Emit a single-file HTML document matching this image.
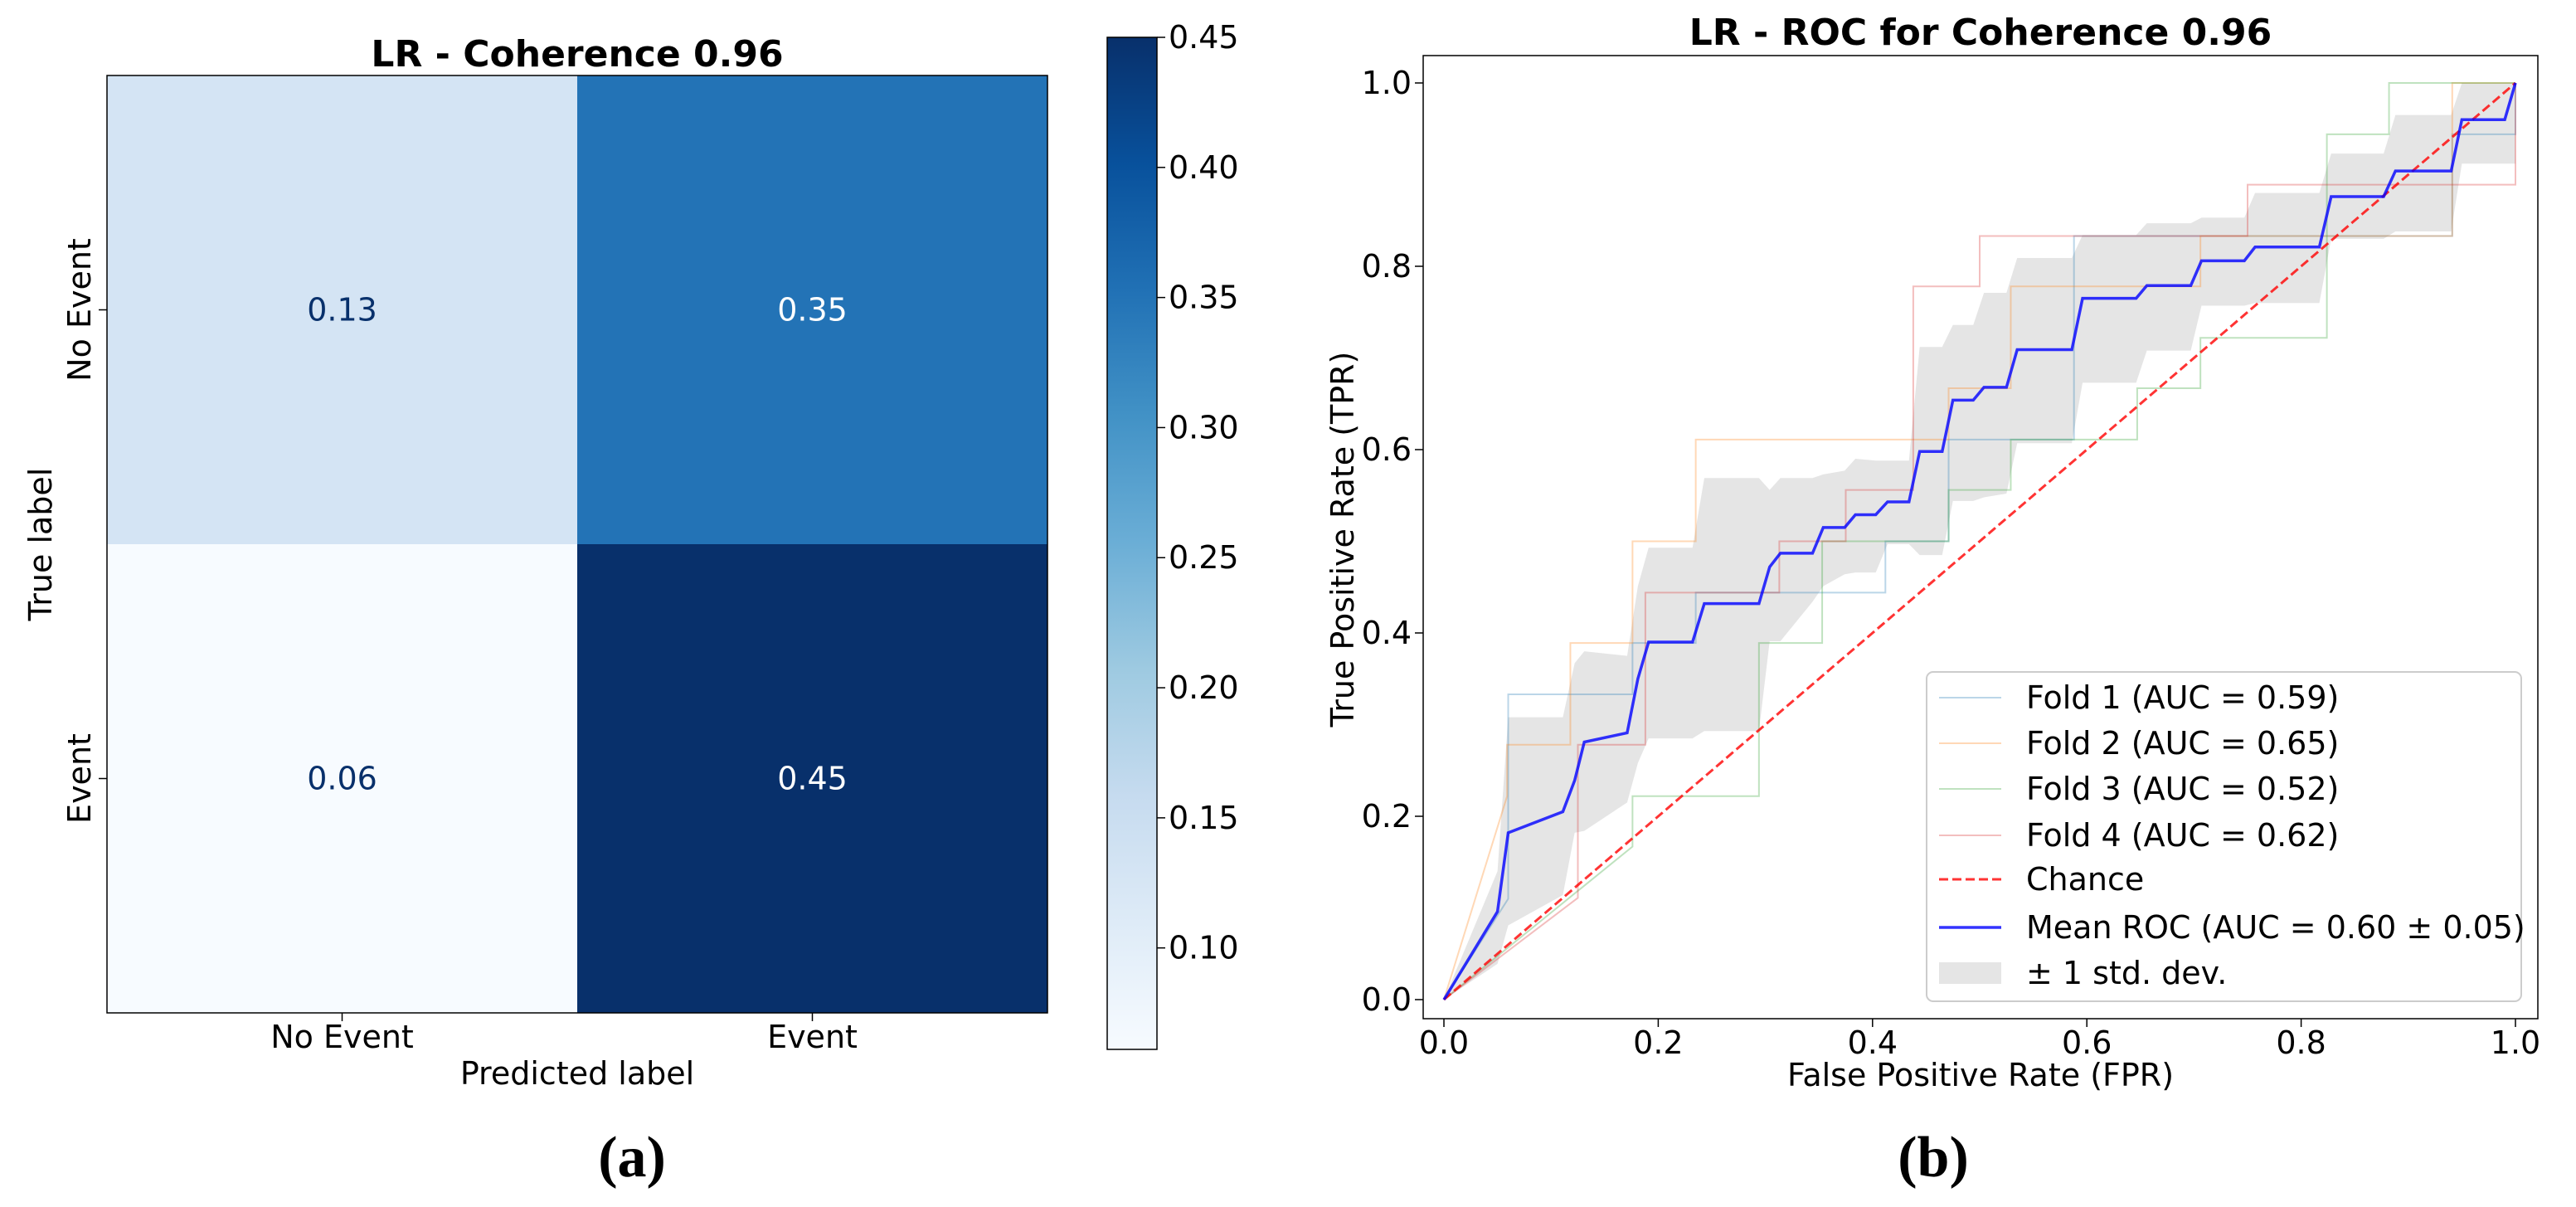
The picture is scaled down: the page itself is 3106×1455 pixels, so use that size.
<!DOCTYPE html>
<html><head><meta charset="utf-8"><style>
body{margin:0;background:#fff;overflow:hidden}
svg{display:block;font-family:"DejaVu Sans","Liberation Sans",sans-serif}
</style></head><body>
<svg id="fig" width="3106" height="1455" viewBox="0 0 3106 1455" xmlns="http://www.w3.org/2000/svg">
<rect width="3106" height="1455" fill="#fff"/>
<g id="left"></g>
<g id="right"></g>
</svg>
<script>
// ---- Confusion matrix data ----
const cmLabels = ["No Event", "Event"];
const cmValues = [[0.13, 0.35], [0.06, 0.45]];
const cbTicks = [0.10, 0.15, 0.20, 0.25, 0.30, 0.35, 0.40, 0.45];
const cbMin = 0.061, cbMax = 0.45;

// ---- ROC data ----
const rocTicks = [0.0, 0.2, 0.4, 0.6, 0.8, 1.0];
const fold1 = [[0,0],[0.06,0.11],[0.06,0.333],[0.176,0.333],[0.176,0.389],[0.235,0.389],[0.235,0.444],[0.412,0.444],[0.412,0.5],[0.471,0.5],[0.471,0.611],[0.588,0.611],[0.588,0.833],[0.941,0.833],[0.941,0.944],[1,0.944],[1,1]];
const fold2 = [[0,0],[0.059,0.222],[0.059,0.278],[0.118,0.278],[0.118,0.389],[0.176,0.389],[0.176,0.5],[0.235,0.5],[0.235,0.611],[0.471,0.611],[0.471,0.667],[0.529,0.667],[0.529,0.778],[0.706,0.778],[0.706,0.833],[0.941,0.833],[0.941,1],[1,1]];
const fold3 = [[0,0],[0.176,0.167],[0.176,0.222],[0.294,0.222],[0.294,0.389],[0.353,0.389],[0.353,0.5],[0.471,0.5],[0.471,0.556],[0.529,0.556],[0.529,0.611],[0.647,0.611],[0.647,0.667],[0.706,0.667],[0.706,0.722],[0.824,0.722],[0.824,0.944],[0.882,0.944],[0.882,1],[1,1]];
const fold4 = [[0,0],[0.125,0.111],[0.125,0.278],[0.188,0.278],[0.188,0.444],[0.313,0.444],[0.313,0.5],[0.375,0.5],[0.375,0.556],[0.438,0.556],[0.438,0.778],[0.5,0.778],[0.5,0.833],[0.75,0.833],[0.75,0.889],[1,0.889],[1,1]];
const meanX = [0,0.050,0.060,0.111,0.122,0.131,0.171,0.181,0.191,0.232,0.243,0.294,0.304,0.314,0.344,0.354,0.374,0.384,0.403,0.414,0.434,0.444,0.465,0.475,0.494,0.504,0.525,0.535,0.586,0.596,0.646,0.656,0.697,0.707,0.747,0.757,0.817,0.828,0.877,0.888,0.940,0.950,0.990,1];
const meanY = [0,0.096,0.182,0.205,0.239,0.281,0.291,0.350,0.390,0.390,0.432,0.432,0.472,0.487,0.487,0.515,0.515,0.529,0.529,0.543,0.543,0.598,0.598,0.654,0.654,0.668,0.668,0.709,0.709,0.765,0.765,0.779,0.779,0.806,0.806,0.821,0.821,0.876,0.876,0.904,0.904,0.960,0.960,1];
const upperY = [0,0.140,0.308,0.308,0.367,0.380,0.375,0.451,0.493,0.493,0.569,0.569,0.556,0.569,0.569,0.573,0.577,0.590,0.588,0.588,0.588,0.712,0.712,0.736,0.736,0.771,0.771,0.809,0.809,0.834,0.834,0.847,0.847,0.853,0.853,0.880,0.880,0.923,0.923,0.965,0.965,1,1,1];
const lowerY = [0,0.039,0.081,0.114,0.182,0.184,0.215,0.258,0.285,0.285,0.293,0.293,0.391,0.391,0.434,0.451,0.464,0.466,0.466,0.497,0.497,0.485,0.485,0.544,0.544,0.548,0.552,0.607,0.607,0.673,0.673,0.708,0.708,0.757,0.757,0.760,0.760,0.830,0.830,0.838,0.838,0.912,0.912,0.912];
const legendLabels = ["Fold 1 (AUC = 0.59)","Fold 2 (AUC = 0.65)","Fold 3 (AUC = 0.52)","Fold 4 (AUC = 0.62)","Chance","Mean ROC (AUC = 0.60 ± 0.05)","± 1 std. dev."];

const NS = "http://www.w3.org/2000/svg";
const FS = 38;
function mk(parent, tag, attrs, text) {
  const e = document.createElementNS(NS, tag);
  for (const k in attrs) e.setAttribute(k, attrs[k]);
  if (text !== undefined) e.textContent = text;
  parent.appendChild(e);
  return e;
}
const stops = ["#f7fbff","#deebf7","#c6dbef","#9ecae1","#6baed6","#4292c6","#2171b5","#08519c","#08306b"];
function hex(c){return [1,3,5].map(i=>parseInt(c.substr(i,2),16));}
function blues(t){
  t=Math.max(0,Math.min(1,t));const p=t*(stops.length-1);const i=Math.min(stops.length-2,Math.floor(p));const f=p-i;
  const a=hex(stops[i]),b=hex(stops[i+1]);
  return "rgb("+a.map((v,k)=>Math.round(v+(b[k]-v)*f)).join(",")+")";
}

// ---------- Left panel ----------
const L = document.getElementById('left');
const hx0=129,hx1=1263,hy0=91,hy1=1221;
const cw=(hx1-hx0)/cmLabels.length, ch=(hy1-hy0)/cmLabels.length;
let t;
for (let r=0;r<cmValues.length;r++) for (let c=0;c<cmValues[r].length;c++){
  const v=cmValues[r][c]; const tn=(v-cbMin)/(cbMax-cbMin);
  const cell=mk(L,'rect',{x:hx0+c*cw,y:hy0+r*ch,width:cw,height:ch,fill:blues(tn)});
  
  
  const tx=mk(L,'text',{x:hx0+(c+0.5)*cw,y:hy0+(r+0.5)*ch+13,'font-size':FS,'text-anchor':'middle',fill:tn>0.5?'#fff':'#08306b'},v.toFixed(2));
  
  
}
mk(L,'rect',{x:hx0,y:hy0,width:hx1-hx0,height:hy1-hy0,fill:'none',stroke:'#000','stroke-width':1.5});
cmLabels.forEach((lab,i)=>{
  const cx=hx0+(i+0.5)*cw;
  mk(L,'line',{x1:cx,y1:hy1,x2:cx,y2:hy1+10,stroke:'#000','stroke-width':1.5});
  const xt=mk(L,'text',{x:cx,y:hy1+42,'font-size':FS,'text-anchor':'middle'},lab);
  
  
  const cy=hy0+(i+0.5)*ch;
  mk(L,'line',{x1:hx0,y1:cy,x2:hx0-10,y2:cy,stroke:'#000','stroke-width':1.5});
  const yt=mk(L,'text',{x:0,y:0,'font-size':FS,'text-anchor':'middle',transform:`translate(109,${cy}) rotate(-90)`},lab);
  
  
});
t=mk(L,'text',{x:696,y:80,'font-size':44,'font-weight':'bold','text-anchor':'middle'},'LR - Coherence 0.96');

t=mk(L,'text',{x:696,y:1307,'font-size':FS,'text-anchor':'middle'},'Predicted label');

t=mk(L,'text',{x:0,y:0,'font-size':FS,'text-anchor':'middle',transform:'translate(62,656) rotate(-90)'},'True label');

// colorbar
const cbx=1335,cbw=60,cby0=45,cby1=1265;
const defs=mk(L,'defs',{});
const g=mk(defs,'linearGradient',{id:'cbg',x1:0,y1:1,x2:0,y2:0});
stops.forEach((s,i)=>mk(g,'stop',{offset:i/(stops.length-1),'stop-color':s}));
const cb=mk(L,'rect',{x:cbx,y:cby0,width:cbw,height:cby1-cby0,fill:'url(#cbg)',stroke:'#000','stroke-width':1.5});

const cbY=v=>cby1-(v-cbMin)/(cbMax-cbMin)*(cby1-cby0);
cbTicks.forEach(v=>{
  const y=cbY(v);
  mk(L,'line',{x1:cbx+cbw,y1:y,x2:cbx+cbw+10,y2:y,stroke:'#000','stroke-width':1.5});
  const tl=mk(L,'text',{x:cbx+cbw+14,y:y+13,'font-size':FS},v.toFixed(2));
  
  
});
t=mk(L,'text',{x:762,y:1418,'font-size':70,'font-family':'Liberation Serif, serif','font-weight':'bold','text-anchor':'middle'},'(a)');


// ---------- Right panel ----------
const R=document.getElementById('right');
const X=v=>1741+v*1292, Y=v=>1205-v*1105;
const ax0=1716,ax1=3060,ay0=67,ay1=1228;
t=mk(R,'text',{x:2388,y:54,'font-size':44,'font-weight':'bold','text-anchor':'middle'},'LR - ROC for Coherence 0.96');

let bp=meanX.map((x,i)=>X(x)+','+Y(upperY[i]));
for(let i=meanX.length-1;i>=0;i--) bp.push(X(meanX[i])+','+Y(lowerY[i]));
const band=mk(R,'polygon',{points:bp.join(' '),fill:'#b0b0b0','fill-opacity':0.33,stroke:'none'});

const foldCols=['#1f77b4','#ff7f0e','#2ca02c','#d62728'];
[fold1,fold2,fold3,fold4].forEach((f,i)=>{
  const pl=mk(R,'polyline',{points:f.map(p=>X(p[0])+','+Y(p[1])).join(' '),fill:'none',stroke:foldCols[i],'stroke-opacity':0.3,'stroke-width':2});
  
  
});
t=mk(R,'line',{x1:X(0),y1:Y(0),x2:X(1),y2:Y(1),stroke:'#ff0000','stroke-opacity':0.8,'stroke-width':3,'stroke-dasharray':'11,5'});

t=mk(R,'polyline',{points:meanX.map((x,i)=>X(x)+','+Y(meanY[i])).join(' '),fill:'none',stroke:'#0000ff','stroke-opacity':0.8,'stroke-width':3.5});

mk(R,'rect',{x:ax0,y:ay0,width:ax1-ax0,height:ay1-ay0,fill:'none',stroke:'#000','stroke-width':1.5});
rocTicks.forEach(v=>{
  mk(R,'line',{x1:X(v),y1:ay1,x2:X(v),y2:ay1+10,stroke:'#000','stroke-width':1.5});
  const a=mk(R,'text',{x:X(v),y:ay1+42,'font-size':FS,'text-anchor':'middle'},v.toFixed(1));
  
  mk(R,'line',{x1:ax0,y1:Y(v),x2:ax0-10,y2:Y(v),stroke:'#000','stroke-width':1.5});
  const b=mk(R,'text',{x:ax0-14,y:Y(v)+13,'font-size':FS,'text-anchor':'end'},v.toFixed(1));
  
});
t=mk(R,'text',{x:2388,y:1309,'font-size':FS,'text-anchor':'middle'},'False Positive Rate (FPR)');

t=mk(R,'text',{x:0,y:0,'font-size':FS,'text-anchor':'middle',transform:'translate(1632,650) rotate(-90)'},'True Positive Rate (TPR)');

// legend
const lg=mk(R,'g',{});

mk(lg,'rect',{x:2323,y:810,width:717,height:397,rx:8,fill:'#fff','fill-opacity':0.8,stroke:'#ccc','stroke-width':2});
const legY=[841,896,951,1007,1060,1118,1173];
legendLabels.forEach((lab,i)=>{
  const y=legY[i];
  if(i<4) mk(lg,'line',{x1:2338,y1:y,x2:2413,y2:y,stroke:foldCols[i],'stroke-opacity':0.3,'stroke-width':2});
  else if(i==4) mk(lg,'line',{x1:2338,y1:y,x2:2413,y2:y,stroke:'#ff0000','stroke-opacity':0.8,'stroke-width':3,'stroke-dasharray':'11,5'});
  else if(i==5) mk(lg,'line',{x1:2338,y1:y,x2:2413,y2:y,stroke:'#0000ff','stroke-opacity':0.8,'stroke-width':3.5});
  else mk(lg,'rect',{x:2338,y:y-13,width:75,height:26,fill:'#b0b0b0','fill-opacity':0.33});
  const e=mk(lg,'text',{x:2443,y:y+13,'font-size':FS},lab);
  
});
t=mk(R,'text',{x:2331,y:1418,'font-size':70,'font-family':'Liberation Serif, serif','font-weight':'bold','text-anchor':'middle'},'(b)');

</script>
</body></html>
